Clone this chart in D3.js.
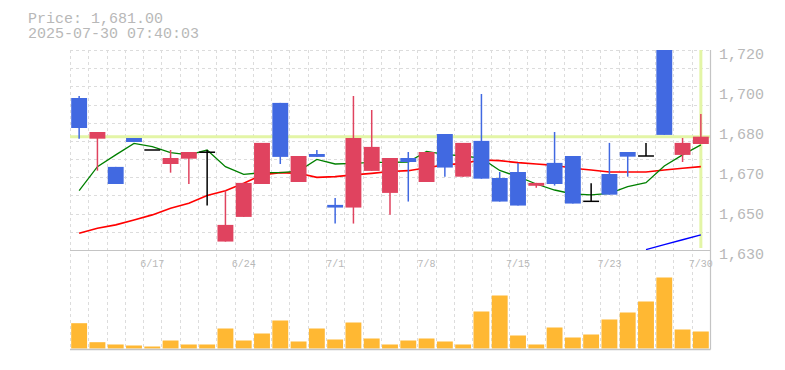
<!DOCTYPE html>
<html><head><meta charset="utf-8">
<script src="https://cdn.jsdelivr.net/npm/d3@7"></script>
<style>
body{margin:0;background:#fff;}
svg{display:block;}
text{font-family:"Liberation Mono","DejaVu Sans Mono",monospace;}
</style>
</head><body>
<svg id="chart" width="785" height="370"></svg>
<script>
const dates=["6/11","6/12","6/13","6/16","6/17","6/18","6/19","6/20","6/23","6/24","6/25","6/26","6/27","6/30","7/1","7/2","7/3","7/4","7/7","7/8","7/9","7/10","7/11","7/14","7/15","7/16","7/17","7/18","7/22","7/23","7/24","7/25","7/28","7/29","7/30"];
const openP =[1698.4,1680.1,1667.4,1680.4,1675,1668.7,1671.1,1674,1633.8,1644.9,1659.7,1696.2,1660.6,1673.2,1650.3,1649.1,1665.6,1655.7,1671.4,1660.6,1682.2,1663,1679.1,1662.4,1665.1,1658.9,1669.2,1672.3,1651.9,1664.2,1674.1,1672.3,1725,1672.8,1677.7];
const highP =[1699.3,1683.1,1667.4,1680.4,1675,1675,1674.1,1675,1656.7,1660.2,1678.2,1696.2,1672.3,1675,1653.4,1699.3,1693,1671.4,1674.1,1674.1,1682.2,1678.2,1700.2,1665.1,1669.2,1660.2,1683.1,1672.3,1660,1678.2,1674.1,1678.2,1725,1680.4,1691.2];
const lowP  =[1680.1,1665.7,1659.7,1678.6,1675,1664.8,1659.7,1650,1633.8,1644.9,1659.7,1668.7,1660.6,1671.9,1641.9,1641.9,1665.6,1645.9,1651.8,1660.6,1663,1663,1662.1,1651.8,1650,1658,1659,1650.9,1651.9,1654.9,1663,1672.3,1681.8,1669.6,1677.7];
const closeP=[1684.9,1683.1,1659.7,1678.6,1675,1671.4,1674.1,1674,1641.3,1660.2,1678.2,1671.9,1672.3,1671.9,1649.1,1680.4,1676.4,1671.4,1669.6,1674.1,1667.1,1678.2,1662.1,1651.8,1650,1660.2,1659.7,1650.9,1651.9,1654.9,1672,1672.3,1681.8,1678.2,1681];
const ma5 =[1656.7,1667.5,1672.8,1678,1676.5,1673.8,1672.8,1675,1667.5,1664,1664.8,1664.8,1665.5,1670.8,1668.7,1669,1669.4,1669.4,1669.6,1674.4,1673,1672.3,1671.3,1665.8,1663,1659.7,1657,1655.2,1654.8,1655.5,1658.5,1660.3,1667.8,1672.8,1677.3];
const ma25=[1637.5,1639.8,1641.3,1643.5,1645.8,1648.8,1651,1654.5,1656.7,1660,1663.8,1664.8,1664.5,1662.7,1663,1663.8,1664.5,1665.3,1665.7,1667,1668.3,1669,1670.5,1670.2,1669.3,1668.7,1668.1,1666.8,1666,1665.1,1665.1,1665.1,1666,1666.8,1667.5];
const ma75=[null,null,null,null,null,null,null,null,null,null,null,null,null,null,null,null,null,null,null,null,null,null,null,null,null,null,null,null,null,null,null,1630.2,1632.4,1634.6,1636.8];
const volume=[253,63,40,30,20,80,40,40,200,80,150,280,70,200,90,260,100,40,80,100,70,40,370,530,130,40,210,110,140,290,360,470,710,190,170];
const yTickValues=[1720,1702,1684,1666,1648,1630];
const yTickLabels=["1,720","1,700","1,680","1,670","1,650","1,630"];
const xTickLabels=["6/17","6/24","7/1","7/8","7/15","7/23","7/30"];
const priceText="Price: 1,681.00";
const timeText="2025-07-30 07:40:03";
const lastPrice=1681;

const L=70,R=710,T=50,B=250,VB=349.5;
const UP="#e0435f",DOWN="#4169e1",FLAT="#000",GRID="#dcdcdc",AXIS="#c4c4c4",TXT="#b8b8b8",HL="#e3f5a6";
const FONT='"Liberation Mono","DejaVu Sans Mono",monospace';

const svg=d3.select("#chart");
const x=d3.scaleBand().domain(dates).range([L,R]).padding(0);
const y=d3.scaleLinear().domain([1630,1720]).range([B,T]);
const yv=d3.scaleLinear().domain([0,1000]).range([348.5,248.5]);
const bw=x.bandwidth();
const cx=d=>x(d)+bw/2;

svg.append("defs").append("clipPath").attr("id","clip").append("rect")
  .attr("x",L).attr("y",T).attr("width",R-L).attr("height",B-T);

// grid
const grid=svg.append("g");
grid.selectAll("line.h").data(d3.range(12).map(i=>1630+i*90/11)).join("line")
  .attr("x1",L).attr("x2",R).attr("y1",d=>Math.round(y(d))+0.5).attr("y2",d=>Math.round(y(d))+0.5)
  .attr("stroke",GRID).attr("stroke-dasharray","3,3");
grid.selectAll("line.v").data(dates).join("line")
  .attr("x1",d=>Math.round(x(d))+0.5).attr("x2",d=>Math.round(x(d))+0.5).attr("y1",T).attr("y2",VB)
  .attr("stroke",GRID).attr("stroke-dasharray","3,3");

// highlight lines
const plot=svg.append("g").attr("clip-path","url(#clip)");
plot.append("line").attr("x1",L).attr("x2",R).attr("y1",y(lastPrice)).attr("y2",y(lastPrice))
  .attr("stroke",HL).attr("stroke-width",3);
plot.append("line").attr("x1",cx(dates[dates.length-1])).attr("x2",cx(dates[dates.length-1]))
  .attr("y1",T).attr("y2",B-2).attr("stroke",HL).attr("stroke-width",3);

// moving averages
function maLine(arr,color,w){
  const ln=d3.line().defined(d=>d[1]!=null).x(d=>cx(d[0])).y(d=>y(d[1]));
  plot.append("path").datum(dates.map((d,i)=>[d,arr[i]])).attr("d",ln)
    .attr("fill","none").attr("stroke",color).attr("stroke-width",w);
}
maLine(ma25,"#ff0000",1.6);
maLine(ma5,"#008000",1.3);
maLine(ma75,"#0000ff",1.4);

// candles
const col=i=>closeP[i]>openP[i]?UP:(closeP[i]<openP[i]?DOWN:FLAT);
const cg=plot.append("g");
dates.forEach((d,i)=>{
  const c=col(i);
  if(highP[i]>lowP[i]){
    cg.append("line").attr("x1",cx(d)).attr("x2",cx(d)).attr("y1",y(highP[i])).attr("y2",y(lowP[i]))
      .attr("stroke",c).attr("stroke-width",1.5);
  }
  if(c===FLAT){
    cg.append("line").attr("x1",x(d)+1.2).attr("x2",x(d)+bw-1.2).attr("y1",y(closeP[i])).attr("y2",y(closeP[i]))
      .attr("stroke",c).attr("stroke-width",1.5);
  } else {
    const top=y(Math.max(openP[i],closeP[i])),bot=y(Math.min(openP[i],closeP[i]));
    cg.append("rect").attr("x",x(d)+1.2).attr("width",bw-2.4).attr("y",top).attr("height",Math.max(1,bot-top))
      .attr("fill",c);
  }
});

// volume
svg.append("g").selectAll("rect").data(dates).join("rect")
  .attr("x",d=>x(d)+1.2).attr("width",bw-2.4)
  .attr("y",(d,i)=>yv(volume[i])).attr("height",(d,i)=>yv(0)-yv(volume[i]))
  .attr("fill","#ffb833");

// frame
svg.append("line").attr("x1",L).attr("x2",R+0.5).attr("y1",B+0.5).attr("y2",B+0.5).attr("stroke",AXIS).attr("stroke-width",1.2);
svg.append("line").attr("x1",L).attr("x2",R+0.5).attr("y1",VB).attr("y2",VB).attr("stroke",AXIS).attr("stroke-width",1.5);
svg.append("line").attr("x1",R+0.5).attr("x2",R+0.5).attr("y1",T).attr("y2",VB).attr("stroke",AXIS).attr("stroke-width",1.2);

// y axis labels
const yAxis=d3.axisRight(y).tickValues(yTickValues).tickSize(0).tickPadding(0)
  .tickFormat((d,i)=>yTickLabels[i]);
const ya=svg.append("g").attr("transform",`translate(${R+9},0)`).call(yAxis);
ya.select(".domain").remove();
ya.selectAll("text").attr("fill",TXT).attr("font-size","15px").attr("dy","0.34em")
  .attr("transform","translate(0,3)").style("font-family",FONT);

// x axis labels
const xAxis=d3.axisBottom(x).tickValues(xTickLabels).tickSize(0).tickPadding(0);
const xa=svg.append("g").attr("transform",`translate(0,${B})`).call(xAxis);
xa.select(".domain").remove();
xa.selectAll("text").attr("fill",TXT).attr("font-size","10px").attr("dy","0").attr("y",17)
  .style("font-family",FONT);

// header
svg.append("text").attr("x",28).attr("y",22.5).attr("fill",TXT).attr("font-size","15px").text(priceText);
svg.append("text").attr("x",28).attr("y",38.3).attr("fill",TXT).attr("font-size","15px").text(timeText);
</script>
</body></html>
